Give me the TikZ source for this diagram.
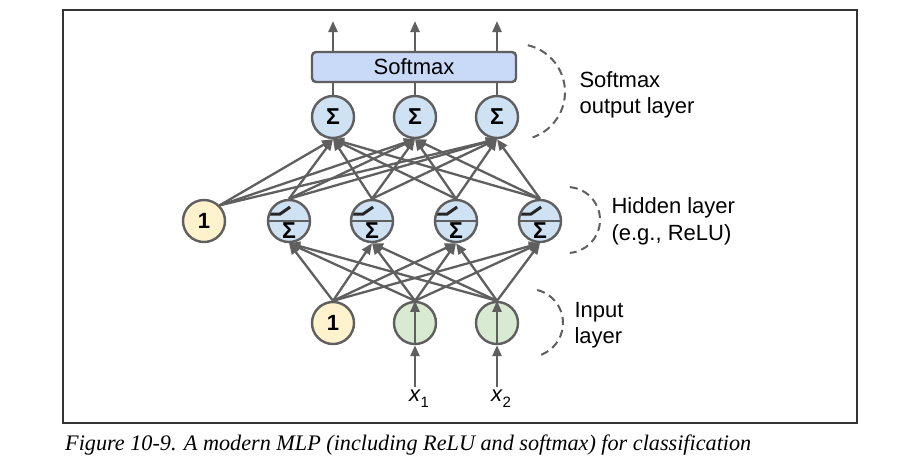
\documentclass[tikz,border=0pt]{standalone}
\usepackage{fontspec}
\setmainfont{Liberation Sans}
\newfontfamily\capfont{Liberation Serif}
\usepackage{tikz}
\usetikzlibrary{arrows.meta,positioning}
\definecolor{edgegray}{HTML}{5F5F5F}
\definecolor{sumblue}{HTML}{CFE2F3}
\definecolor{boxblue}{HTML}{C9DAF8}
\definecolor{biasyellow}{HTML}{FFF2CC}
\definecolor{inpgreen}{HTML}{D9EAD3}
\tikzset{basic/.style={draw=edgegray,line width=2.4pt,text=black}}
\tikzset{unit/.style={basic,circle,minimum size=42pt,inner sep=0pt}}

\begin{document}
\begin{tikzpicture}[x=1pt,y=-1pt,>={Triangle[length=11pt,width=9pt]},font=\fontsize{22}{26}\selectfont]
		\tikzstyle{bias}=[unit,fill=biasyellow,font=\fontsize{22}{22}\selectfont\bfseries]
		\tikzstyle{inp}=[unit,fill=inpgreen]
		\tikzstyle{sum}=[unit,fill=sumblue,font=\fontsize{23}{23}\selectfont\bfseries]
		\tikzstyle{hidden}=[sum,path picture={
			\draw[edgegray,line width=2.4pt] (path picture bounding box.west) -- (path picture bounding box.east);
			\draw[black!85,line width=3pt,shift={(path picture bounding box.center)}] (-14pt,7pt) -- (-2pt,7pt) -- (8pt,14pt);}]
		\tikzstyle{conn}=[draw=edgegray,line width=2.3pt]
		\tikzstyle{layer}=[draw=edgegray,line width=2pt,dash pattern=on 8pt off 5pt]

		\useasboundingbox (0,0) rectangle (920,475);
		\fill[white] (0,0) rectangle (920,475);
		\draw[black!80,line width=1.3pt] (63,10) rectangle (857,423);

		% input layer
		\node[bias](b0) at (333,323){1};
		\node[inp](i1) at (415,323){};
		\node[inp](i2) at (497,323){};
		\node(lx1) at (419,399){\textit{x}\raisebox{-6pt}{\fontsize{15}{15}\selectfont 1}};
		\node(lx2) at (501,399){\textit{x}\raisebox{-6pt}{\fontsize{15}{15}\selectfont 2}};

		% hidden layer
		\node[bias](b1) at (204,221){1};
		\node[hidden](h1) at (289,221){\raisebox{-17pt}[0pt][0pt]{Σ}};
		\node[hidden](h2) at (372,221){\raisebox{-17pt}[0pt][0pt]{Σ}};
		\node[hidden](h3) at (456,221){\raisebox{-17pt}[0pt][0pt]{Σ}};
		\node[hidden](h4) at (540,221){\raisebox{-17pt}[0pt][0pt]{Σ}};

		% output layer
		\node[sum](o1) at (333,117){Σ};
		\node[sum](o2) at (415,117){Σ};
		\node[sum](o3) at (497,117){Σ};
		\node[basic,fill=boxblue,rounded corners=4pt,minimum width=204pt,minimum height=30pt](sm) at (414,67){Softmax};
		\coordinate(t1) at (333,21);
		\coordinate(t2) at (415,21);
		\coordinate(t3) at (497,21);

		\draw[conn,->] (i1 |- lx1.north) -- (i1.south);
		\draw[conn,->] (i2 |- lx2.north) -- (i2.south);
		\draw[conn,->] (i1.south) -- (i1.north);
		\draw[conn,->] (i2.south) -- (i2.north);

		\draw[conn,->] (b0.north) -- (h1.south);
		\draw[conn,->] (b0.north) -- (h2.south);
		\draw[conn,->] (b0.north) -- (h3.south);
		\draw[conn,->] (b0.north) -- (h4.south);

		\draw[conn,->] (i1.north) -- (h1.south);
		\draw[conn,->] (i1.north) -- (h2.south);
		\draw[conn,->] (i1.north) -- (h3.south);
		\draw[conn,->] (i1.north) -- (h4.south);

		\draw[conn,->] (i2.north) -- (h1.south);
		\draw[conn,->] (i2.north) -- (h2.south);
		\draw[conn,->] (i2.north) -- (h3.south);
		\draw[conn,->] (i2.north) -- (h4.south);

		\draw[conn,->] (b1.north east) -- (o1.south);
		\draw[conn,->] (b1.north east) -- (o2.south);
		\draw[conn,->] (b1.north east) -- (o3.south);

		\draw[conn,->] (h1.north) -- (o1.south);
		\draw[conn,->] (h1.north) -- (o2.south);
		\draw[conn,->] (h1.north) -- (o3.south);

		\draw[conn,->] (h2.north) -- (o1.south);
		\draw[conn,->] (h2.north) -- (o2.south);
		\draw[conn,->] (h2.north) -- (o3.south);

		\draw[conn,->] (h3.north) -- (o1.south);
		\draw[conn,->] (h3.north) -- (o2.south);
		\draw[conn,->] (h3.north) -- (o3.south);

		\draw[conn,->] (h4.north) -- (o1.south);
		\draw[conn,->] (h4.north) -- (o2.south);
		\draw[conn,->] (h4.north) -- (o3.south);

		\draw[conn] (o1.north) -- (o1.north |- sm.south);
		\draw[conn] (o2.north) -- (o2.north |- sm.south);
		\draw[conn] (o3.north) -- (o3.north |- sm.south);
		\draw[conn,->] (t1 |- sm.north) -- (t1);
		\draw[conn,->] (t2 |- sm.north) -- (t2);
		\draw[conn,->] (t3 |- sm.north) -- (t3);

		% layer braces
		\draw[layer] (517,92) ++(-77:48) arc[start angle=-77,end angle=71,radius=48];
		\draw[layer] (567,220) ++(-85:33) arc[start angle=-85,end angle=85,radius=33];
		\draw[layer] (529,323) ++(-76:34) arc[start angle=-76,end angle=76,radius=34];
		\node[align=left,anchor=west](lo) at (576,95){Softmax\\output layer};
		\node[align=left,anchor=west,font=\fontsize{22}{27}\selectfont](lh) at (608,221){Hidden layer\\(e.g., ReLU)};
		\node[align=left,anchor=west](li) at (571,325){Input\\layer};

		\node[anchor=base west,inner sep=0pt,font=\capfont\itshape\fontsize{22.2}{22}\selectfont](cap) at (65,450){Figure 10-9. A modern MLP (including ReLU and softmax) for classification};
	\end{tikzpicture}
\end{document}
